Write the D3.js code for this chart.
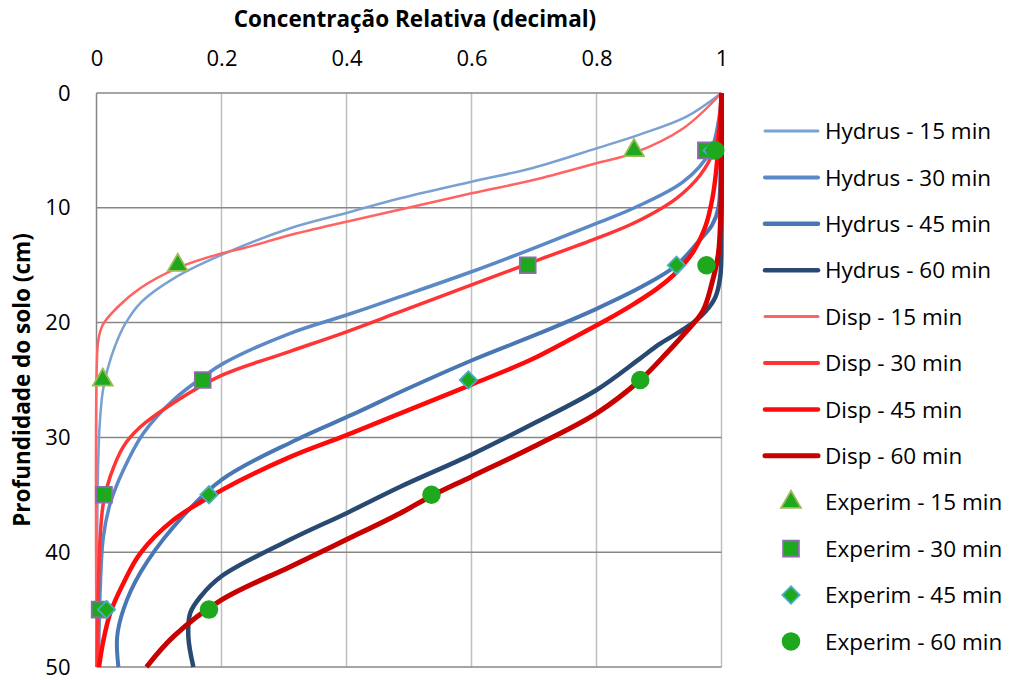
<!DOCTYPE html>
<html lang="pt">
<head>
    <meta charset="UTF-8">
    <title>Concentração Relativa</title>
    <script src="https://d3js.org/d3.v7.min.js"></script>
    <style>
        body { margin: 0; background: #fff; }
        svg { display: block; font-family: "Open Sans", sans-serif; }
    </style>
</head>
<body>
    <div id="chart"></div>
    <script>
        const w = 1011;
        const h = 680;

        // depth (cm) / relative concentration for each simulated curve
        const hydrus15Depth = [0, 2.06, 3.6, 4.82, 6.53, 7.73, 9.17, 10.45, 11.78, 14.1, 16.1, 18.2, 20.2, 22, 24, 26, 29, 34, 40, 50];
        const hydrus15Conc = [1, 0.944, 0.87, 0.8, 0.698, 0.6, 0.486, 0.4, 0.31, 0.2, 0.125, 0.072, 0.045, 0.03, 0.018, 0.01, 0.005, 0.002, 0.001, 0];

        const hydrus30Depth = [0, 2.5, 5.1, 7.73, 10.04, 11.35, 13.53, 15.57, 17.74, 19.34, 20.93, 23.55, 24.71, 26.74, 29.64, 32.84, 35.74, 38.65, 43, 50];
        const hydrus30Conc = [1, 0.995, 0.982, 0.939, 0.859, 0.8, 0.699, 0.6, 0.486, 0.4, 0.31, 0.203, 0.171, 0.123, 0.075, 0.043, 0.022, 0.011, 0.006, 0.003];

        const hydrus45Depth = [0, 5, 10, 11.5, 13, 15, 16.8, 18.8, 20.9, 23.3, 25.7, 28, 30.2, 33.7, 37.8, 41.8, 45, 47.4, 50];
        const hydrus45Conc = [1, 0.999, 0.995, 0.985, 0.962, 0.928, 0.875, 0.8, 0.71, 0.6, 0.5, 0.41, 0.32, 0.2, 0.123, 0.07, 0.043, 0.033, 0.035];

        const hydrus60Depth = [0, 12, 16, 17.8, 19, 20, 20.9, 21.9, 23.2, 25.87, 28.77, 31.5, 34.3, 36.6, 38.9, 42.1, 43.9, 45.3, 47.4, 50];
        const hydrus60Conc = [1, 1, 0.998, 0.99, 0.975, 0.955, 0.93, 0.9, 0.868, 0.8, 0.7, 0.6, 0.486, 0.4, 0.31, 0.2, 0.166, 0.15, 0.147, 0.155];

        const disp15Depth = [0, 3.07, 5.25, 6.12, 7.58, 8.74, 9.76, 11.21, 12.37, 13.53, 13.97, 15.22, 17.01, 18.75, 20.2, 21.5, 24.1, 50];
        const disp15Conc = [1, 0.939, 0.859, 0.8, 0.699, 0.6, 0.518, 0.4, 0.31, 0.235, 0.2, 0.131, 0.07, 0.032, 0.01, 0.003, 0.0003, 0];

        const disp30Depth = [0, 2.5, 5.11, 7.14, 9.17, 11.35, 12.66, 14.7, 16.72, 19.05, 20.8, 22.5, 24.6, 27, 29.1, 30.8, 33.4, 35.7, 38.6, 43, 50];
        const disp30Conc = [1, 0.997, 0.987, 0.966, 0.928, 0.859, 0.8, 0.699, 0.6, 0.486, 0.4, 0.31, 0.2, 0.123, 0.07, 0.043, 0.022, 0.011, 0.006, 0.003, 0.001];

        const disp45Depth = [0, 2.2, 6.5, 9, 11.5, 13.8, 15.6, 17, 18.3, 19.8, 21.4, 23.26, 25.4, 27.9, 29.8, 31.7, 34.6, 37.2, 40.1, 42.7, 45.3, 47.7, 50];
        const disp45Conc = [1, 0.998, 0.992, 0.986, 0.975, 0.955, 0.928, 0.898, 0.862, 0.815, 0.76, 0.694, 0.6, 0.486, 0.4, 0.31, 0.2, 0.123, 0.07, 0.043, 0.022, 0.011, 0.004];

        const disp60Depth = [0, 10, 14, 16.5, 19, 21, 22.67, 25, 27.9, 30.81, 33.42, 35.1, 36.6, 38.9, 41.26, 44.16, 47.36, 50];
        const disp60Conc = [1, 0.999, 0.995, 0.985, 0.97, 0.94, 0.912, 0.87, 0.8, 0.699, 0.6, 0.536, 0.486, 0.4, 0.31, 0.2, 0.123, 0.08];

        // measured points
        const exp15Depth = [5, 15, 25];
        const exp15Conc = [0.86, 0.13, 0.01];
        const exp30Depth = [5, 15, 25, 35, 45];
        const exp30Conc = [0.975, 0.69, 0.17, 0.012, 0.005];
        const exp45Depth = [5, 15, 25, 35, 45];
        const exp45Conc = [0.985, 0.928, 0.595, 0.18, 0.016];
        const exp60Depth = [5, 15, 25, 35, 45];
        const exp60Conc = [0.99, 0.976, 0.87, 0.536, 0.18];

        const xTicks = [0, 0.2, 0.4, 0.6, 0.8, 1];
        const yTicks = [0, 10, 20, 30, 40, 50];

        const lineSeries = [
            { name: "Hydrus - 15 min", depth: hydrus15Depth, conc: hydrus15Conc, color: "#7aa1d2", width: 2.5, legendWidth: 3 },
            { name: "Hydrus - 30 min", depth: hydrus30Depth, conc: hydrus30Conc, color: "#5a89c6", width: 3.5, legendWidth: 4 },
            { name: "Hydrus - 45 min", depth: hydrus45Depth, conc: hydrus45Conc, color: "#4877b3", width: 4, legendWidth: 4.5 },
            { name: "Hydrus - 60 min", depth: hydrus60Depth, conc: hydrus60Conc, color: "#284a72", width: 4.5, legendWidth: 4.5 },
            { name: "Disp - 15 min", depth: disp15Depth, conc: disp15Conc, color: "#ff6363", width: 2.5, legendWidth: 3 },
            { name: "Disp - 30 min", depth: disp30Depth, conc: disp30Conc, color: "#ff3535", width: 3.5, legendWidth: 4 },
            { name: "Disp - 45 min", depth: disp45Depth, conc: disp45Conc, color: "#ff0a0a", width: 4.5, legendWidth: 4.5 },
            { name: "Disp - 60 min", depth: disp60Depth, conc: disp60Conc, color: "#c80000", width: 5, legendWidth: 5 }
        ];

        const pointSeries = [
            { name: "Experim - 15 min", depth: exp15Depth, conc: exp15Conc, symbol: d3.symbolTriangle, size: 170, rotate: 0, stroke: "#9bbb59" },
            { name: "Experim - 30 min", depth: exp30Depth, conc: exp30Conc, symbol: d3.symbolSquare, size: 250, rotate: 0, stroke: "#8d6cb0" },
            { name: "Experim - 45 min", depth: exp45Depth, conc: exp45Conc, symbol: d3.symbolSquare, size: 150, rotate: 45, stroke: "#4bacc6" },
            { name: "Experim - 60 min", depth: exp60Depth, conc: exp60Conc, symbol: d3.symbolCircle, size: 220, rotate: 0, stroke: "#1ea81e" }
        ];

        const x = d3.scaleLinear().domain([0, 1]).range([96.5, 721.5]);
        const y = d3.scaleLinear().domain([0, 50]).range([93, 667]);

        const svg = d3.select("#chart")
            .append("svg")
            .attr("width", w)
            .attr("height", h);

        // grid
        svg.append("g")
            .selectAll("line")
            .data(xTicks.slice(1))
            .join("line")
            .attr("x1", d => x(d))
            .attr("x2", d => x(d))
            .attr("y1", y(0))
            .attr("y2", y(50))
            .attr("stroke", "#bfbfbf")
            .attr("stroke-width", 1.5);

        svg.append("g")
            .selectAll("line")
            .data(yTicks)
            .join("line")
            .attr("x1", x(0))
            .attr("x2", x(1))
            .attr("y1", d => y(d))
            .attr("y2", d => y(d))
            .attr("stroke", "#878787")
            .attr("stroke-width", 1.5);

        svg.append("line")
            .attr("x1", x(0))
            .attr("x2", x(0))
            .attr("y1", y(0))
            .attr("y2", y(50))
            .attr("stroke", "#878787")
            .attr("stroke-width", 1.5);

        // axes labels
        const xAxis = svg.append("g")
            .attr("transform", `translate(0,${y(0)})`)
            .call(d3.axisTop(x).tickValues(xTicks).tickSize(0).tickPadding(27).tickFormat(d => d));
        xAxis.select(".domain").remove();
        xAxis.selectAll("text")
            .attr("font-family", "Open Sans")
            .attr("font-size", 22)
            .attr("fill", "#000");

        const yAxis = svg.append("g")
            .attr("transform", `translate(${x(0)},0)`)
            .call(d3.axisLeft(y).tickValues(yTicks).tickSize(0).tickPadding(26));
        yAxis.select(".domain").remove();
        yAxis.selectAll("text")
            .attr("font-family", "Open Sans")
            .attr("font-size", 22)
            .attr("fill", "#000");

        svg.append("text")
            .attr("x", 415)
            .attr("y", 27)
            .attr("text-anchor", "middle")
            .attr("font-weight", "bold")
            .attr("font-size", 22.5)
            .text("Concentração Relativa (decimal)");

        svg.append("text")
            .attr("transform", "translate(30,380) rotate(-90)")
            .attr("text-anchor", "middle")
            .attr("font-weight", "bold")
            .attr("font-size", 22.5)
            .text("Profundidade do solo (cm)");

        // curves
        const line = d3.line()
            .x(d => x(d[0]))
            .y(d => y(d[1]))
            .curve(d3.curveCatmullRom.alpha(0.5));

        svg.append("g")
            .selectAll("path")
            .data(lineSeries)
            .join("path")
            .attr("fill", "none")
            .attr("stroke", d => d.color)
            .attr("stroke-width", d => d.width)
            .attr("stroke-linejoin", "round")
            .attr("d", d => line(d.depth.map((v, i) => [d.conc[i], v])));

        // measured points
        const markers = svg.append("g");
        pointSeries.forEach(s => {
            markers.selectAll(null)
                .data(s.depth.map((v, i) => [s.conc[i], v]))
                .join("path")
                .attr("transform", d => `translate(${x(d[0])},${y(d[1])}) rotate(${s.rotate})`)
                .attr("d", d3.symbol(s.symbol, s.size))
                .attr("fill", "#1ea81e")
                .attr("stroke", s.stroke)
                .attr("stroke-width", 1.8);
        });

        // legend
        const legendX = 765;
        const legendTop = 131;
        const legendStep = 46.4;

        const legend = svg.append("g");
        const lineItems = legend.selectAll("g.line-item")
            .data(lineSeries)
            .join("g")
            .attr("class", "line-item")
            .attr("transform", (d, i) => `translate(${legendX},${legendTop + i * legendStep})`);
        lineItems.append("line")
            .attr("x1", 0)
            .attr("x2", 53)
            .attr("stroke", d => d.color)
            .attr("stroke-width", d => d.legendWidth)
            .attr("stroke-linecap", "round");
        lineItems.append("text")
            .attr("x", 60)
            .attr("dy", "0.36em")
            .attr("font-size", 22.5)
            .text(d => d.name);

        const pointItems = legend.selectAll("g.point-item")
            .data(pointSeries)
            .join("g")
            .attr("class", "point-item")
            .attr("transform", (d, i) => `translate(${legendX},${legendTop + (i + lineSeries.length) * legendStep})`);
        pointItems.append("path")
            .attr("transform", d => `translate(26,0) rotate(${d.rotate})`)
            .attr("d", d => d3.symbol(d.symbol, d.size)())
            .attr("fill", "#1ea81e")
            .attr("stroke", d => d.stroke)
            .attr("stroke-width", 1.8);
        pointItems.append("text")
            .attr("x", 60)
            .attr("dy", "0.36em")
            .attr("font-size", 22.5)
            .text(d => d.name);
    </script>
</body>
</html>
